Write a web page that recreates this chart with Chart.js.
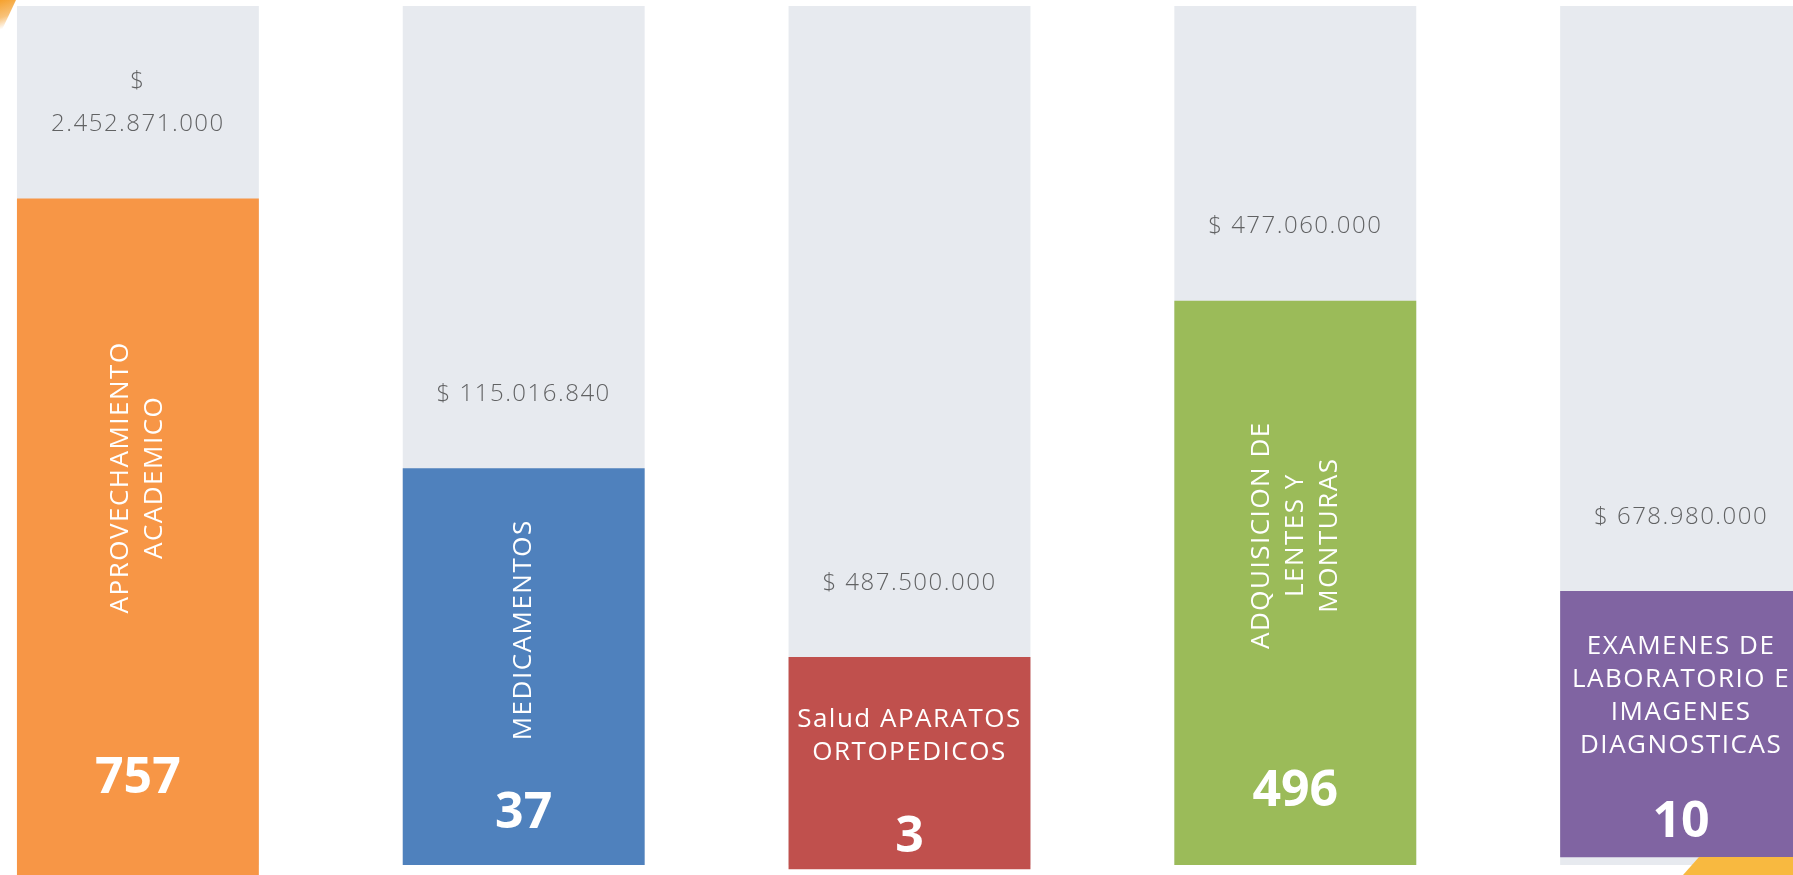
<!DOCTYPE html>
<html>
<head>
<meta charset="utf-8">
<script src="https://cdn.jsdelivr.net/npm/chart.js@4.4.0/dist/chart.umd.min.js"></script>
<style>
  html, body { margin: 0; padding: 0; background: #ffffff; overflow: hidden; }
  body { width: 1793px; height: 875px; position: relative; }
  #grafico { position: absolute; left: -55px; top: 0; }
  .adorno-sup { position: absolute; left: 0; top: 0; width: 16px; height: 34px;
    background: linear-gradient(160deg, #f5a12e 0%, #f8c27a 45%, rgba(255,255,255,0) 75%);
    clip-path: polygon(0 0, 100% 0, 0 100%); }
  .adorno-inf { position: absolute; left: 1683px; top: 857px; width: 110px; height: 18px;
    background: #f8b940; clip-path: polygon(16px 0, 100% 0, 100% 100%, 0 100%); }
</style>
</head>
<body>
<canvas id="grafico" width="1929" height="875"></canvas>
<div class="adorno-sup"></div>
<div class="adorno-inf"></div>
<script>
// categorias (con saltos de linea como en la imagen)
var categorias = [
  ['APROVECHAMIENTO', 'ACADEMICO'],
  ['MEDICAMENTOS'],
  ['Salud APARATOS', 'ORTOPEDICOS'],
  ['ADQUISICION DE', 'LENTES Y', 'MONTURAS'],
  ['EXAMENES DE', 'LABORATORIO E', 'IMAGENES', 'DIAGNOSTICAS']
];
// numero de beneficiarios
var cantidades = [757, 37, 3, 496, 10];
// montos (texto casi ilegible en la imagen, valores estimados)
var montos = [
  ['$', '2.452.871.000'],
  ['$ 115.016.840'],
  ['$ 487.500.000'],
  ['$ 477.060.000'],
  ['$ 678.980.000']
];
// altura de cada barra de color (% de la columna) y su base
var nivelBarra = [77.6, 46.2, 24.2, 65.7, 31.9];
var baseBarra = [-1.2, 0, -0.5, 0, 0.9];
// columna gris de fondo
var fondo = [100, 100, 100, 100, 100];
var colores = ['#F79646', '#4F81BD', '#C0504D', '#9BBB59', '#8064A2'];

var barras = [];
for (var i = 0; i < nivelBarra.length; i++) {
  barras.push([baseBarra[i], nivelBarra[i]]);
}

var etiquetas = {
  id: 'etiquetas',
  afterDatasetsDraw: function(chart) {
    var ctx = chart.ctx;
    var meta = chart.getDatasetMeta(0);
    var abajo = chart.chartArea.bottom;
    meta.data.forEach(function(bar, i) {
      var top = bar.y;
      var bottom = Math.min(bar.base, abajo);
      var h = bottom - top;
      var cx = bar.x;
      var numY = top + h * 0.87;

      ctx.save();
      ctx.textAlign = 'center';
      ctx.textBaseline = 'middle';

      // numero grande
      ctx.fillStyle = '#ffffff';
      ctx.letterSpacing = '0px';
      ctx.font = 'bold 50px "Open Sans"';
      ctx.fillText(String(cantidades[i]), cx, numY);

      // nombre de la categoria
      var lineas = categorias[i];
      var cy = (top + numY - 22) / 2;
      ctx.font = '26px "Open Sans"';
      ctx.letterSpacing = '1.5px';
      if (h > 300) {
        ctx.translate(cx, cy);
        ctx.rotate(-Math.PI / 2);
        lineas.forEach(function(t, j) {
          ctx.fillText(t, 0, (j - (lineas.length - 1) / 2) * 34);
        });
        ctx.setTransform(1, 0, 0, 1, 0, 0);
      } else {
        lineas.forEach(function(t, j) {
          ctx.fillText(t, cx, cy + (j - (lineas.length - 1) / 2) * 33);
        });
      }

      // monto encima de la barra
      var m = montos[i];
      ctx.fillStyle = 'rgba(40,40,40,0.7)';
      ctx.font = '300 24px "Open Sans"';
      ctx.letterSpacing = '1.5px';
      m.forEach(function(t, j) {
        ctx.fillText(t, cx, top - 74 - (m.length - 1 - j) * 43);
      });
      ctx.restore();
    });
  }
};

var grafico = new Chart(document.getElementById('grafico'), {
  type: 'bar',
  data: {
    labels: categorias,
    datasets: [
      {
        data: barras,
        backgroundColor: colores,
        borderWidth: 0,
        grouped: false,
        barPercentage: 0.627,
        categoryPercentage: 1,
        clip: false,
        order: 0
      },
      {
        data: fondo,
        backgroundColor: '#E7EAEF',
        borderWidth: 0,
        grouped: false,
        barPercentage: 0.627,
        categoryPercentage: 1,
        order: 1
      }
    ]
  },
  options: {
    responsive: false,
    animation: false,
    devicePixelRatio: 1,
    layout: { padding: { top: 6, bottom: 10, left: 0, right: 0 } },
    scales: {
      x: { display: false },
      y: { display: false, min: 0, max: 100 }
    },
    plugins: {
      legend: { display: false },
      tooltip: { enabled: false }
    }
  },
  plugins: [etiquetas]
});
</script>
</body>
</html>
